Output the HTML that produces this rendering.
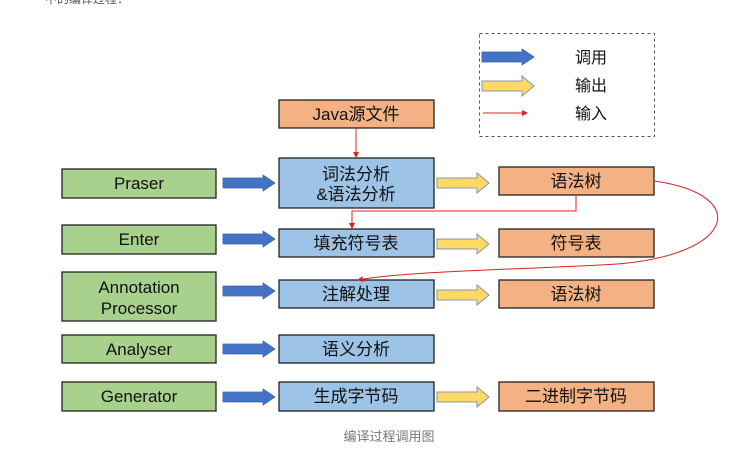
<!DOCTYPE html>
<html><head><meta charset="utf-8"><style>
html,body{margin:0;padding:0;background:#fff;width:746px;height:453px;overflow:hidden}
text{font-family:"Liberation Sans","Noto Sans CJK SC",sans-serif;fill:#111}
</style></head><body>
<svg width="746" height="453" viewBox="0 0 746 453" xmlns="http://www.w3.org/2000/svg">
<defs>
<marker id="ra" markerWidth="6" markerHeight="6" refX="5" refY="3" orient="auto"><path d="M0,0 L6,3 L0,6 z" fill="#e02020"/></marker>
<g id="ba"><path d="M0,3 H40 V0 L52,8 L40,16 V13 H0 z" fill="#4472c4" stroke="#3a62a8" stroke-width="0.8"/></g>
<g id="ya"><path d="M0,5 H40 V0 L52,10 L40,20 V15 H0 z" fill="#ffd966" stroke="#8497b0" stroke-width="1"/></g>
</defs>
<text x="45" y="3" font-size="12" fill="#555" style="fill:#555">中的编译过程：</text>
<rect x="479.5" y="33.5" width="175" height="103" fill="none" stroke="#555" stroke-dasharray="3,3"/>
<use href="#ba" x="482" y="49"/>
<use href="#ya" x="482" y="76"/>
<line x1="483" y1="113" x2="527" y2="113" stroke="#e02020" stroke-width="1" marker-end="url(#ra)"/>
<text x="575" y="63" font-size="16">调用</text>
<text x="575" y="91" font-size="16">输出</text>
<text x="575" y="119" font-size="16">输入</text>

<g stroke="#222" stroke-width="1.3">
<rect x="279" y="100" width="155" height="28" fill="#f4b183"/>
<rect x="279" y="158" width="155" height="50" fill="#9dc3e6"/>
<rect x="279" y="229" width="155" height="28" fill="#9dc3e6"/>
<rect x="279" y="280" width="155" height="28" fill="#9dc3e6"/>
<rect x="279" y="335" width="155" height="28" fill="#9dc3e6"/>
<rect x="279" y="382" width="155" height="29" fill="#9dc3e6"/>
<rect x="62" y="169" width="154" height="29" fill="#a9d18e"/>
<rect x="62" y="225" width="154" height="29" fill="#a9d18e"/>
<rect x="62" y="272" width="154" height="49" fill="#a9d18e"/>
<rect x="62" y="335" width="154" height="28" fill="#a9d18e"/>
<rect x="62" y="382" width="154" height="29" fill="#a9d18e"/>
<rect x="499" y="167" width="155" height="28" fill="#f4b183"/>
<rect x="499" y="229" width="155" height="28" fill="#f4b183"/>
<rect x="499" y="280" width="155" height="28" fill="#f4b183"/>
<rect x="499" y="382" width="155" height="29" fill="#f4b183"/>
</g>
<use href="#ba" x="223" y="175"/>
<use href="#ba" x="223" y="231"/>
<use href="#ba" x="223" y="283"/>
<use href="#ba" x="223" y="341"/>
<use href="#ba" x="223" y="389"/>
<use href="#ya" x="437" y="173"/>
<use href="#ya" x="437" y="234"/>
<use href="#ya" x="437" y="285"/>
<use href="#ya" x="437" y="387"/>

<g stroke="#e02020" stroke-width="1" fill="none">
<line x1="356" y1="128" x2="356" y2="157" marker-end="url(#ra)"/>
<path d="M576,195 V211 H352 V228" marker-end="url(#ra)"/>
<path d="M654,181 C755,195 735,260 600,265 C500,270 400,272 358,280" marker-end="url(#ra)"/>
</g>

<g font-size="17" text-anchor="middle">
<text x="356" y="120">Java源文件</text>
<text x="356" y="180">词法分析</text>
<text x="356" y="200">&amp;语法分析</text>
<text x="356" y="249">填充符号表</text>
<text x="356" y="300">注解处理</text>
<text x="356" y="355">语义分析</text>
<text x="356" y="402">生成字节码</text>
<text x="139" y="189">Praser</text>
<text x="139" y="245">Enter</text>
<text x="139" y="293">Annotation</text>
<text x="139" y="314">Processor</text>
<text x="139" y="355">Analyser</text>
<text x="139" y="402">Generator</text>
<text x="576" y="187">语法树</text>
<text x="576" y="249">符号表</text>
<text x="576" y="300">语法树</text>
<text x="576" y="402">二进制字节码</text>
</g>
<text x="389" y="441" font-size="13" text-anchor="middle" style="fill:#777">编译过程调用图</text>
</svg>
</body></html>
